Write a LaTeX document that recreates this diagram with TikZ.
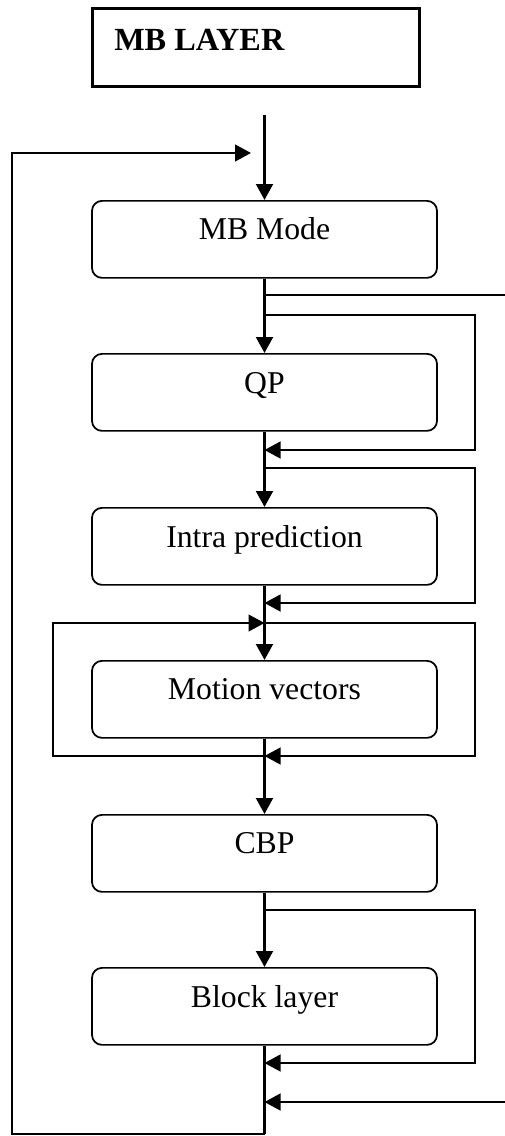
\documentclass[tikz,border=0pt]{standalone}
\usepackage{fontspec}
\setmainfont{Liberation Serif}
\usetikzlibrary{arrows.meta}
\begin{document}
\begin{tikzpicture}[x=0.75pt,y=-0.75pt,
  stage/.style={draw, rounded corners=7.5pt, line width=1.3pt,
    minimum width=258.75pt, minimum height=57.75pt, inner sep=0pt, anchor=north},
  lbl/.style={anchor=base, inner sep=0pt, font=\fontsize{23.8}{28}\selectfont},
  tip/.style={-{Triangle[length=12pt,width=12.5pt]}},
  main/.style={line width=2.3pt},
  side/.style={line width=1.8pt},
]
\useasboundingbox (0,0) rectangle (505,1136);

% title box
\node[draw, line width=2.3pt, minimum width=245.25pt, minimum height=58.5pt,
      inner sep=0pt, anchor=north west] (layer) at (91,7) {};
\node[anchor=base west, inner sep=0pt, font=\fontsize{24.2}{28}\selectfont\bfseries]
      (layert) at (114,50) {MB LAYER};

% processing stages
\node[stage] (mode)  at (264.5,200) {};
\node[lbl] (modet)  at (264.5,239) {MB Mode};
\node[stage] (qp)    at (264.5,353) {};
\node[lbl] (qpt)    at (264.5,393) {QP};
\node[stage] (intra) at (264.5,507) {};
\node[lbl] (intrat) at (264.5,547) {Intra prediction};
\node[stage] (mv)    at (264.5,660) {};
\node[lbl] (mvt)    at (264.5,699) {Motion vectors};
\node[stage] (cbp)   at (264.5,814) {};
\node[lbl] (cbpt)   at (264.5,853) {CBP};
\node[stage] (block) at (264.5,967) {};
\node[lbl] (blockt) at (264.5,1007) {Block layer};

% junction points
\coordinate (in)   at (264.5,115);
\coordinate (fb)   at (251,153);
\coordinate (out)  at (505,295);
\coordinate (qa)   at (264.5,315);
\coordinate (qb)   at (264.5,450);
\coordinate (ia)   at (264.5,468);
\coordinate (ib)   at (264.5,603);
\coordinate (ma)   at (264.5,623);
\coordinate (mb)   at (264.5,756);
\coordinate (ca)   at (264.5,910);
\coordinate (cb)   at (264.5,1063);
\coordinate (ext)  at (505,1102);
\coordinate (ein)  at (264.5,1102);
\coordinate (end)  at (264.5,1134);
\coordinate (lc)   at (12,1134);
\coordinate (lt)   at (12,153);

% main flow
\draw[main,tip] (in) -- (mode.north);
\draw[main,tip] (mode.south) -- (qp.north);
\draw[main,tip] (qp.south) -- (intra.north);
\draw[main,tip] (intra.south) -- (mv.north);
\draw[main,tip] (mv.south) -- (cbp.north);
\draw[main,tip] (cbp.south) -- (block.north);
\draw[side] (block.south) -- (end);

% outgoing branch after MB Mode
\draw[side] (mode.south |- out) -- (out);

% bypass loops on the right
\draw[side,tip] (qa) -- (475,315) -- (475,450) -- (qb);
\draw[side,tip] (ia) -- (475,468) -- (475,603) -- (ib);
\draw[side,tip] (ma) -- (475,623) -- (475,756) -- (mb);
\draw[side,tip] (ca) -- (475,910) -- (475,1063) -- (cb);

% repeat loop round Motion vectors
\draw[side,tip] (mb) -- (53,756) -- (53,623) -- (ma);

% incoming branch before the end
\draw[side,tip] (ext) -- (ein);

% feedback to the start
\draw[side,tip] (end) -- (lc) -- (lt) -- (fb);
\end{tikzpicture}
\end{document}
